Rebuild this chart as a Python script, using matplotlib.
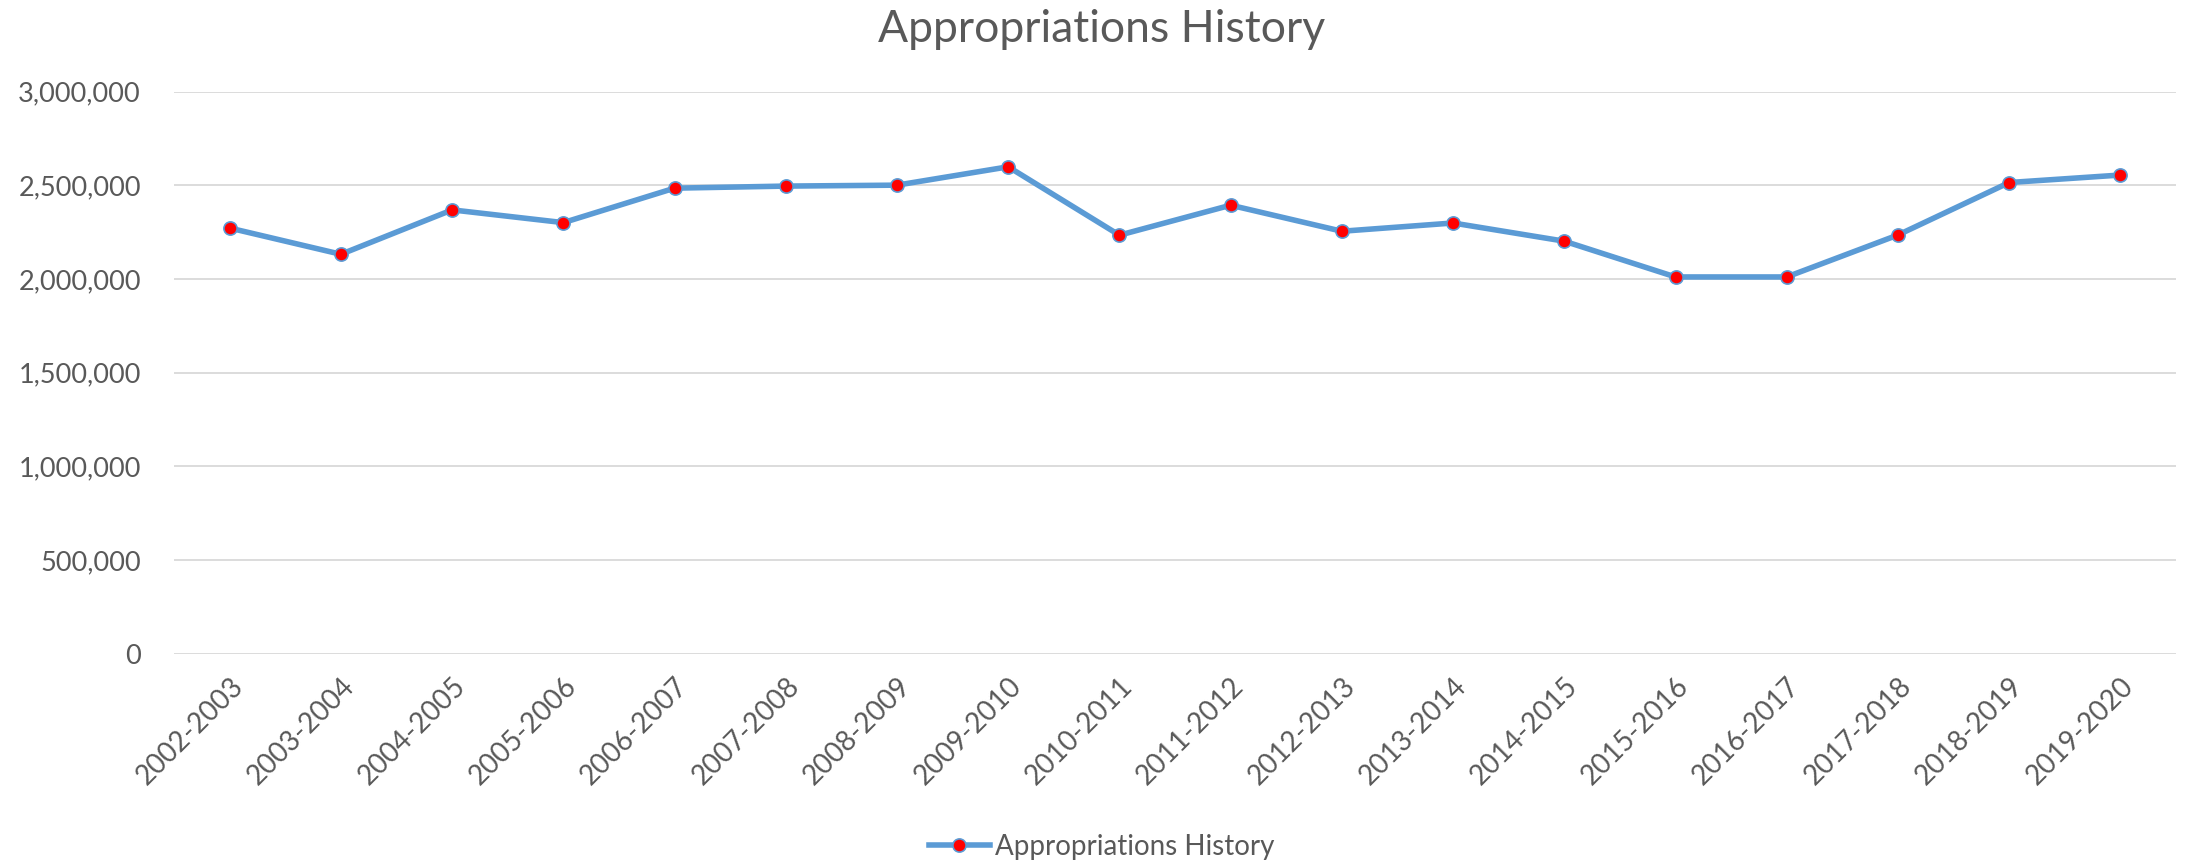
import matplotlib
matplotlib.use("Agg")
import matplotlib.pyplot as plt
from matplotlib.ticker import FuncFormatter, MultipleLocator

# Data
years = ["2002-2003", "2003-2004", "2004-2005", "2005-2006", "2006-2007",
         "2007-2008", "2008-2009", "2009-2010", "2010-2011", "2011-2012",
         "2012-2013", "2013-2014", "2014-2015", "2015-2016", "2016-2017",
         "2017-2018", "2018-2019", "2019-2020"]
appropriations = [2272000, 2132000, 2369000, 2301000, 2485000, 2496000,
                  2501000, 2599000, 2234000, 2394000, 2255000, 2299000,
                  2202000, 2011000, 2011000, 2235000, 2515000, 2555000]

TEXT_GRAY = "#595959"
LINE_BLUE = "#5B9BD5"
GRID_GRAY = "#D9D9D9"

plt.rcParams['font.family'] = ['Lato', 'DejaVu Sans']

fig = plt.figure(figsize=(21.9, 8.64), dpi=100)
ax = fig.add_axes([0.0795, 0.2434, 0.9141, 0.6505])

x = range(len(years))
ax.plot(x, appropriations, color=LINE_BLUE, linewidth=4.0,
        marker="o", markersize=9.5, markerfacecolor="red",
        markeredgecolor=LINE_BLUE, markeredgewidth=1.2,
        label="Appropriations History", zorder=3)

ax.set_xlim(-0.5, len(years) - 0.5)
ax.set_ylim(0, 3000000)
ax.yaxis.set_major_locator(MultipleLocator(500000))
ax.yaxis.set_major_formatter(FuncFormatter(lambda v, p: "{:,.0f}".format(v)))
ax.grid(axis="y", color=GRID_GRAY, linewidth=1.3)
ax.set_axisbelow(True)

ax.set_xticks(list(x))
ax.set_xticklabels(years, rotation=45, ha="right", rotation_mode="anchor")
ax.tick_params(axis="both", length=0, labelsize=19.5, labelcolor=TEXT_GRAY)
ax.tick_params(axis="x", labelsize=20, pad=14)
ax.tick_params(axis="y", pad=24)

for s in ax.spines.values():
    s.set_visible(False)

fig.suptitle("Appropriations History", x=0.503, y=0.966, va="center",
             fontsize=32, color=TEXT_GRAY, fontweight="normal")

leg = fig.legend(loc="center", bbox_to_anchor=(0.503, 0.02), frameon=False,
                 fontsize=20, handlelength=2.2, handletextpad=0.2)
for t in leg.get_texts():
    t.set_color(TEXT_GRAY)

fig.savefig("out.png", dpi=100)
